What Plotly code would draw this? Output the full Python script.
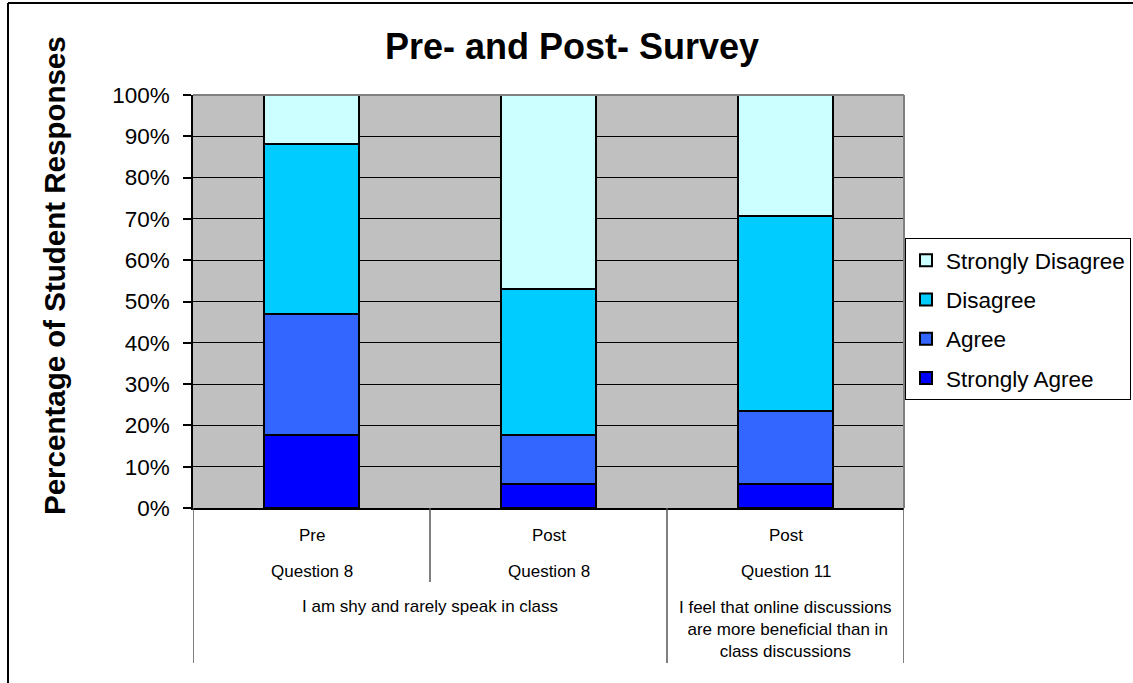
import plotly.graph_objects as go

# Survey groups (x positions 0..2) and their labels
phase_labels = ["Pre", "Post", "Post"]
question_labels = ["Question 8", "Question 8", "Question 11"]
statement_q8 = "I am shy and rarely speak in class"
statement_q11 = "I feel that online discussions<br> are more beneficial than in<br>class discussions"

# Percentage of student responses per group
strongly_agree = [17.6, 5.9, 5.9]
agree = [29.4, 11.8, 17.6]
disagree = [41.2, 35.3, 47.1]
strongly_disagree = [11.8, 47.1, 29.4]

y_ticks = [0, 10, 20, 30, 40, 50, 60, 70, 80, 90, 100]
y_tick_text = [f"{v}%" for v in y_ticks]

FONT = "Arial, Liberation Sans, sans-serif"
x_pos = [0, 1, 2]

series = [
    ("Strongly Agree", strongly_agree, "#0000FF"),
    ("Agree", agree, "#3366FF"),
    ("Disagree", disagree, "#00CCFF"),
    ("Strongly Disagree", strongly_disagree, "#CCFFFF"),
]

fig = go.Figure()
for i, (name, vals, color) in enumerate(series):
    fig.add_trace(go.Bar(
        x=x_pos, y=vals, name=name, width=0.4,
        marker=dict(color=color, line=dict(color="black", width=2)),
        legendgroup=f"g{i}", legendrank=len(series) - i,
    ))

W, H = 1133, 683
L, R, T, B = 193, 229, 95, 175
pw, ph = W - L - R, H - T - B

def px_x(p):
    return (p - L) / pw

def px_y(p):
    return (H - B - p) / ph

fig.update_layout(
    width=W, height=H,
    margin=dict(l=L, r=R, t=T, b=B, pad=0, autoexpand=False),
    barmode="stack",
    paper_bgcolor="white",
    plot_bgcolor="#C0C0C0",
    font=dict(family=FONT, color="black"),
    showlegend=True,
    legend=dict(
        x=px_x(905), y=px_y(238), xanchor="left", yanchor="top",
        bgcolor="white", bordercolor="black", borderwidth=1,
        font=dict(size=22.5, family=FONT, color="black"),
        traceorder="grouped", tracegroupgap=7,
        itemwidth=30,
    ),
    xaxis=dict(
        range=[-0.5, 2.5], showticklabels=False, ticks="",
        showgrid=False, zeroline=False,
        showline=True, linecolor="black", linewidth=1.5,
    ),
    yaxis=dict(
        range=[0, 100], tickmode="array", tickvals=y_ticks, ticktext=y_tick_text,
        ticks="outside", ticklen=8, tickcolor="black", tickwidth=1.5,
        tickfont=dict(size=22.5, family=FONT, color="black"),
        ticklabelstandoff=9,
        showgrid=True, gridcolor="black", gridwidth=1,
        zeroline=False, showline=True, linecolor="black", linewidth=1.5,
    ),
)

shapes = []
# Grey frame on the top and right of the plot area
shapes.append(dict(type="line", xref="paper", yref="paper", x0=0, x1=1, y0=1, y1=1,
                   line=dict(color="#808080", width=2)))
shapes.append(dict(type="line", xref="paper", yref="paper", x0=1, x1=1, y0=0, y1=1,
                   line=dict(color="#808080", width=2)))
# Dividers of the multi-level category axis
divider_color = "#555555"
for xv, ybot in [(-0.5, px_y(663)), (0.5, px_y(582)), (1.5, px_y(663)), (2.5, px_y(663))]:
    shapes.append(dict(type="line", xref="x", yref="paper", x0=xv, x1=xv, y0=0, y1=ybot,
                       line=dict(color=divider_color, width=1.5)))
# Outer chart border (top and left edges)
shapes.append(dict(type="line", xref="paper", yref="paper",
                   x0=px_x(8), x1=px_x(1140), y0=px_y(3), y1=px_y(3),
                   line=dict(color="black", width=2)))
shapes.append(dict(type="line", xref="paper", yref="paper",
                   x0=px_x(8), x1=px_x(8), y0=px_y(3), y1=px_y(690),
                   line=dict(color="black", width=2)))
fig.update_layout(shapes=shapes)

ann = []
cat_font = dict(size=17, family=FONT, color="black")
for xv, ph_lab, q_lab in zip(x_pos, phase_labels, question_labels):
    ann.append(dict(x=xv, y=px_y(535), xref="x", yref="paper", text=ph_lab,
                    showarrow=False, font=cat_font, xanchor="center", yanchor="middle"))
    ann.append(dict(x=xv, y=px_y(571), xref="x", yref="paper", text=q_lab,
                    showarrow=False, font=cat_font, xanchor="center", yanchor="middle"))
ann.append(dict(x=0.5, y=px_y(606), xref="x", yref="paper", text=statement_q8,
                showarrow=False, font=cat_font, xanchor="center", yanchor="middle"))
ann.append(dict(x=2, y=px_y(629), xref="x", yref="paper", text=statement_q11,
                showarrow=False, font=cat_font, xanchor="center", yanchor="middle",
                align="center"))
# Chart title
ann.append(dict(x=px_x(572), y=px_y(46), xref="paper", yref="paper",
                text="<b>Pre- and Post- Survey</b>", showarrow=False,
                font=dict(size=36, family=FONT, color="black"),
                xanchor="center", yanchor="middle"))
# Y axis title
ann.append(dict(x=px_x(54), y=px_y(276), xref="paper", yref="paper",
                text="<b>Percentage of Student Responses</b>", showarrow=False,
                textangle=-90, font=dict(size=29.5, family=FONT, color="black"),
                xanchor="center", yanchor="middle"))
fig.update_layout(annotations=ann)

fig.write_html("out.html")
